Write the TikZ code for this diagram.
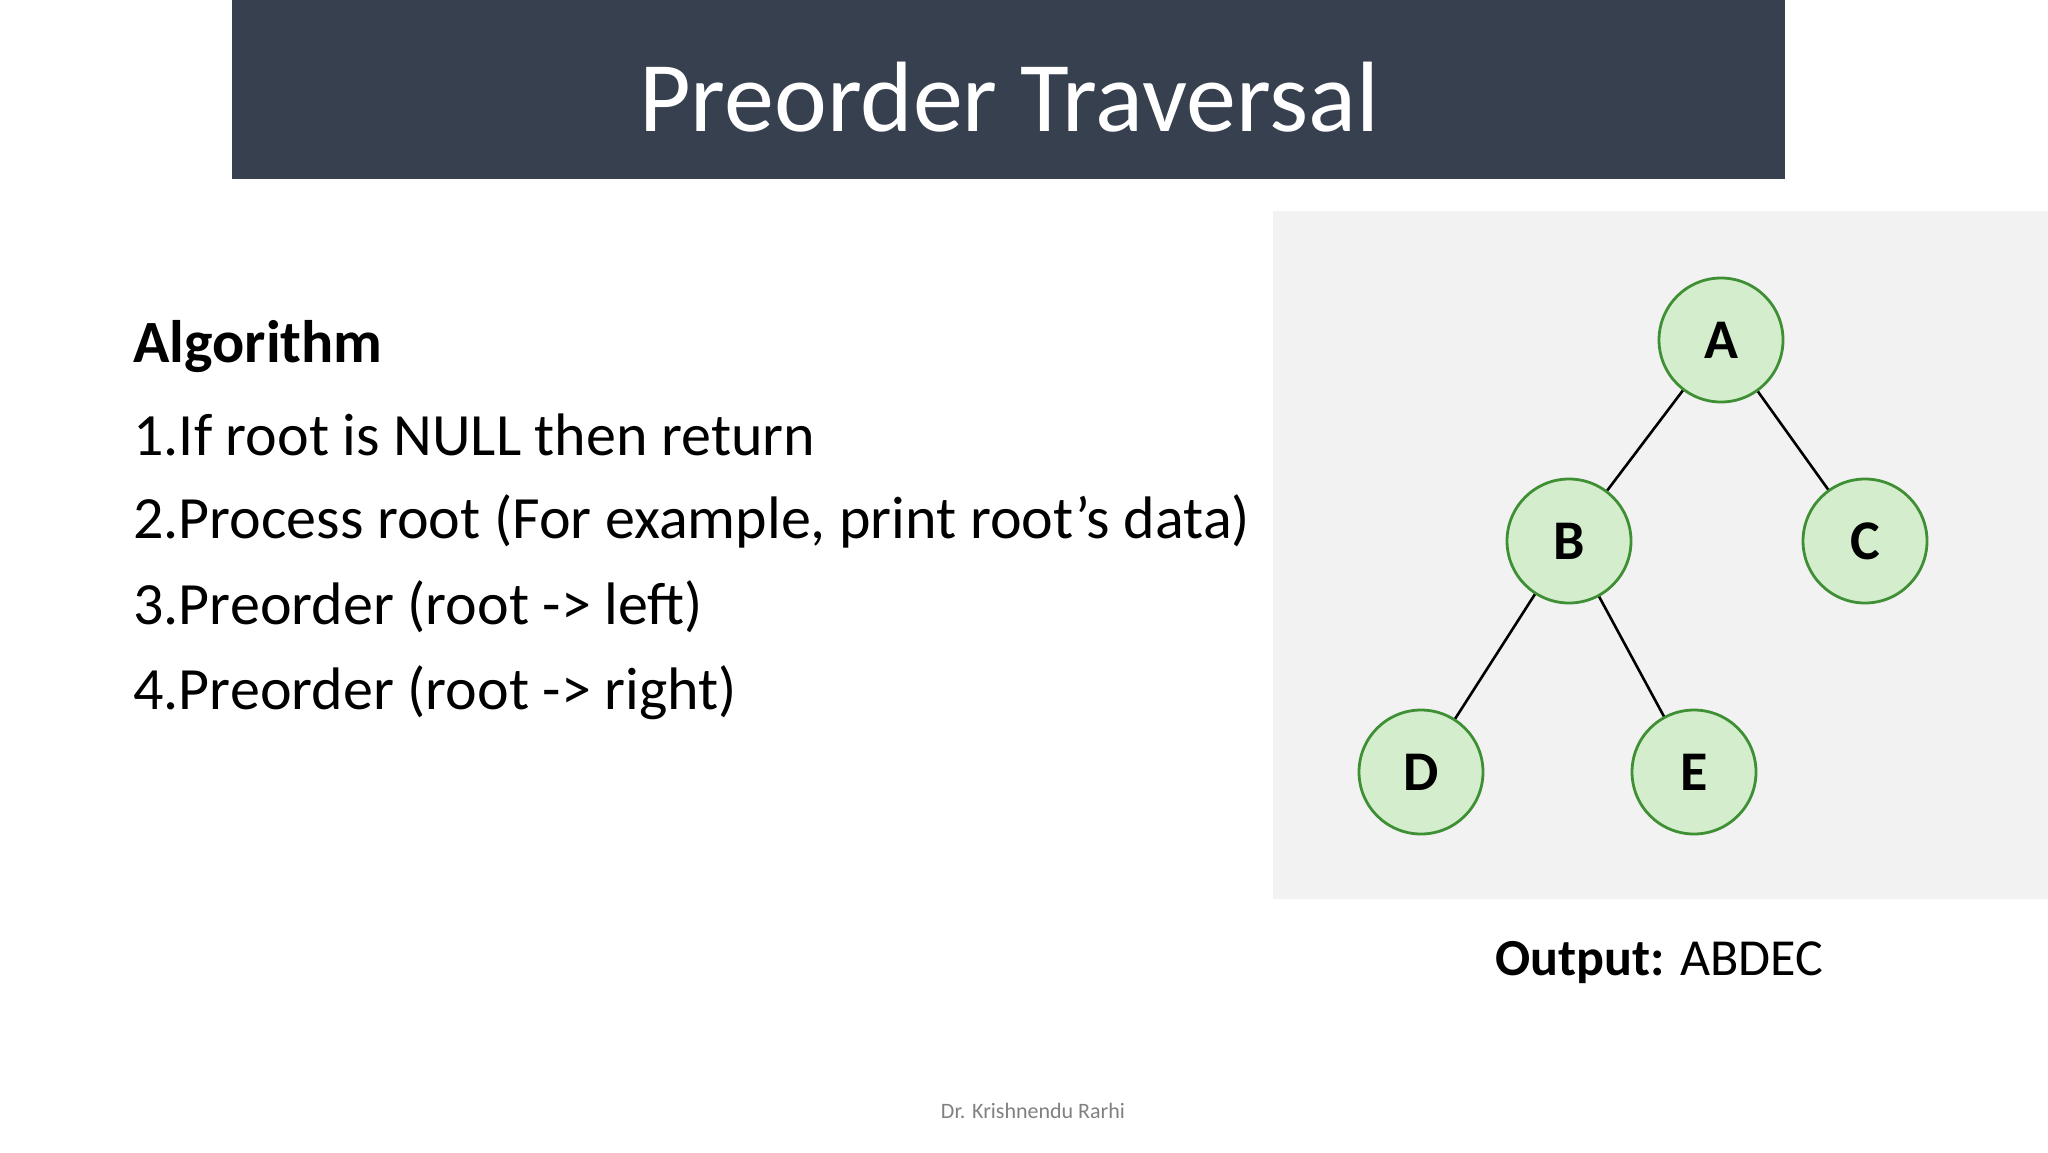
\documentclass[tikz,border=0pt]{standalone}
\usepackage{fontspec}
\setmainfont{Carlito}
\definecolor{bar}{HTML}{36404F}
\definecolor{panel}{HTML}{F2F2F2}
\definecolor{nfill}{HTML}{D4EDCD}
\definecolor{nline}{HTML}{3F8F35}
\begin{document}
\begin{tikzpicture}[x=0.5pt,y=-0.5pt,
  tnode/.style={circle,draw=nline,line width=1.4pt,fill=nfill,minimum size=62pt,inner sep=0pt,font=\fontsize{28}{28}\selectfont\bfseries},
  body/.style={anchor=west,inner sep=0pt,font=\fontsize{30}{30}\selectfont}]
\useasboundingbox (0,0) rectangle (2048,1152);
\fill[bar] (232,0) rectangle (1785,179);
\node[text=white,font=\fontsize{50}{50}\selectfont] (title) at (1009,97) {Preorder Traversal};
\fill[panel] (1273,211) rectangle (2048,899);
\node[body,font=\fontsize{30}{30}\selectfont\bfseries] (h) at (133,347) {Algorithm};
\node[body] (l1) at (133,435) {1.If root is NULL then return};
\node[body] (l2) at (133,521) {2.Process root (For example, print root’s data)};
\node[body] (l3) at (133,607) {3.Preorder (root -> left)};
\node[body] (l4) at (133,693) {4.Preorder (root -> right)};
\node[tnode] (A) at (1721,340) {A};
\node[tnode] (B) at (1569,541) {B};
\node[tnode] (C) at (1865,541) {C};
\node[tnode] (D) at (1421,772) {D};
\node[tnode] (E) at (1694,772) {E};
\draw[line width=1.3pt] (A) -- (B) (A) -- (C) (B) -- (D) (B) -- (E);
\node[font=\fontsize{26}{26}\selectfont] (out) at (1659,963) {\textbf{Output:} ABDEC};
\node[text=gray,font=\fontsize{11}{11}\selectfont] (foot) at (1033,1111) {Dr. Krishnendu Rarhi};
\end{tikzpicture}
\end{document}
